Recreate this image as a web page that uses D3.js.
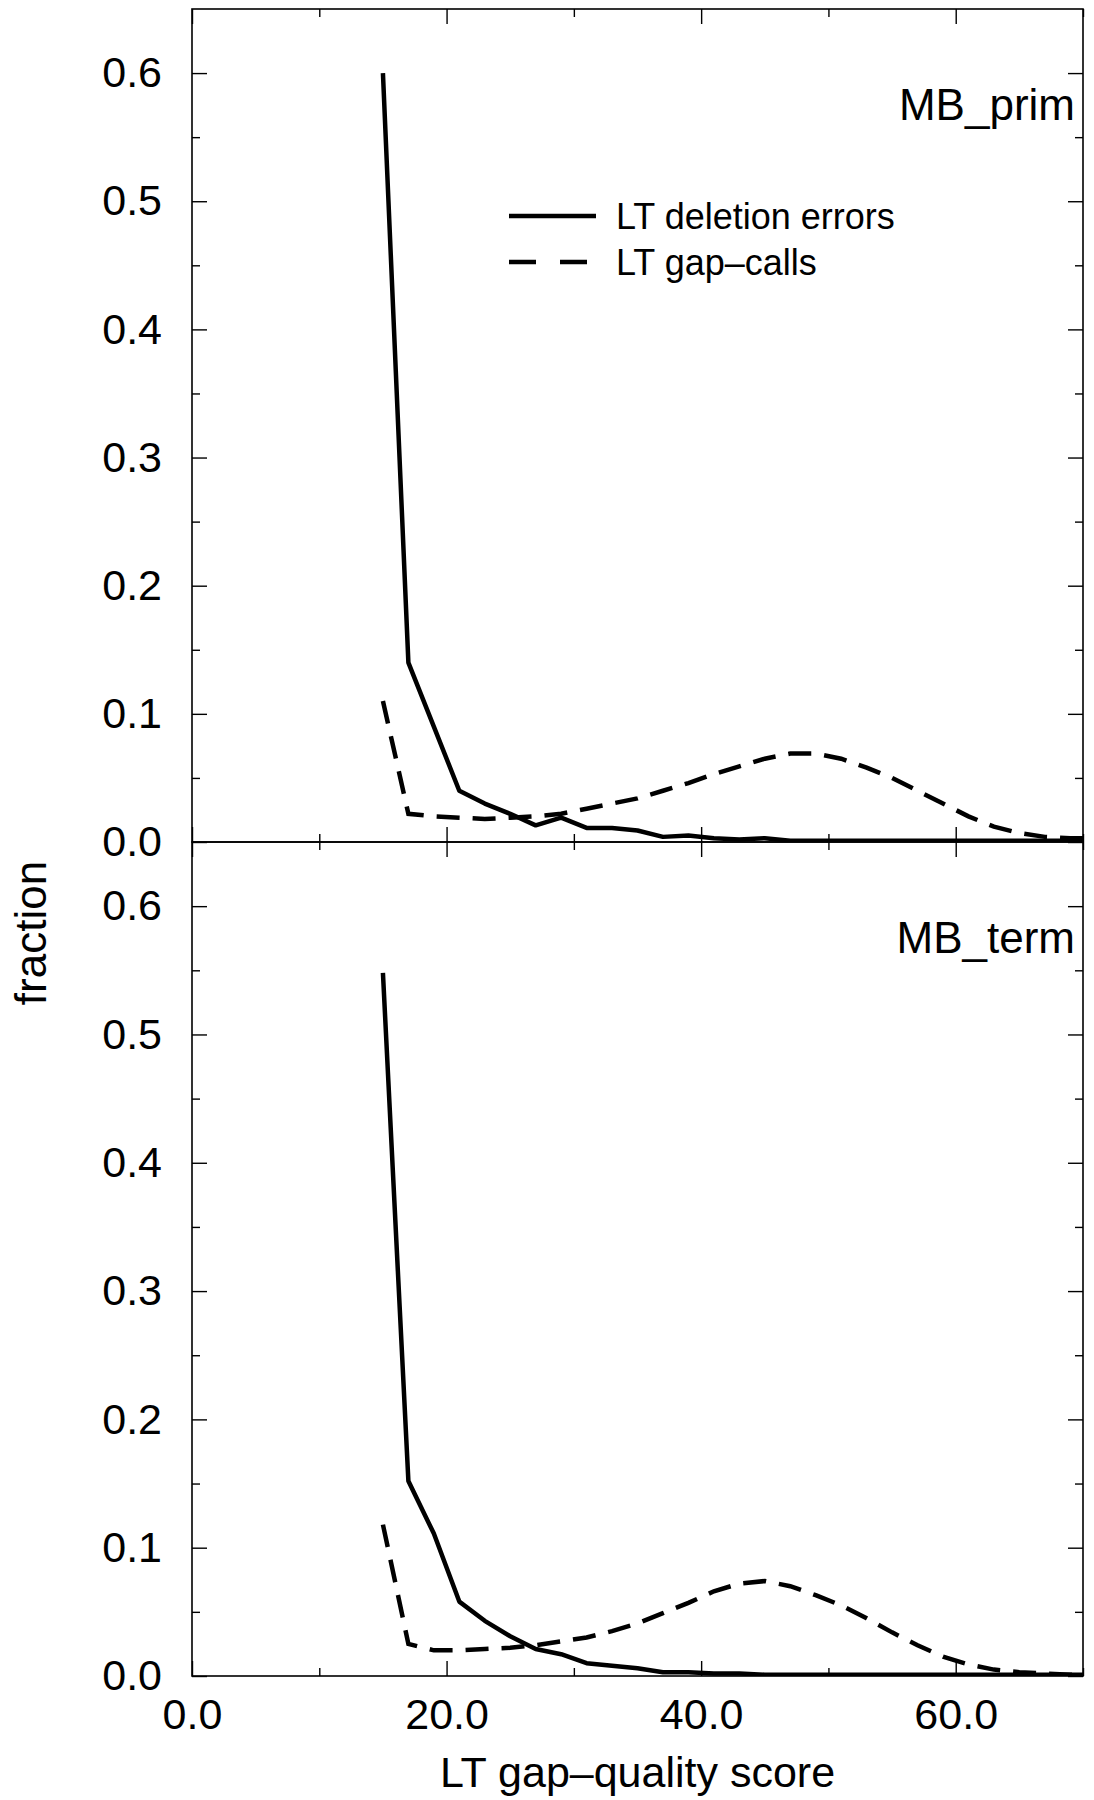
<!DOCTYPE html>
<html>
<head>
<meta charset="utf-8">
<script src="https://d3js.org/d3.v7.min.js"></script>
<style>
  body { margin: 0; background: #fff; }
  svg { display: block; }
  text { font-family: "Liberation Sans", Arial, Helvetica, sans-serif; fill: #000; }
</style>
</head>
<body>
<svg width="1094" height="1800"></svg>
<script>
// bin centres of the gap-quality score
var scores = [15, 17, 19, 21, 23, 25, 27, 29, 31, 33, 35, 37, 39, 41, 43, 45, 47, 49, 51, 53, 55, 57, 59, 61, 63, 65, 67, 69, 71];

// MB_prim
var primDeletion = [0.600, 0.140, 0.090, 0.040, 0.030, 0.022, 0.013, 0.019, 0.011, 0.011, 0.009, 0.004, 0.005, 0.003,
    0.002, 0.003, 0.001, 0.001, 0.001, 0.001, 0.001, 0.001, 0.001, 0.001, 0.001, 0.001, 0.001, 0.001, 0.001];
var primGapCalls = [0.110, 0.022, 0.020, 0.019, 0.018, 0.019, 0.020, 0.022, 0.026, 0.030, 0.034, 0.040, 0.046, 0.053,
    0.059, 0.065, 0.069, 0.069, 0.065, 0.058, 0.050, 0.040, 0.030, 0.020, 0.012, 0.007, 0.004, 0.003, 0.003];

// MB_term
var termDeletion = [0.548, 0.152, 0.111, 0.058, 0.043, 0.031, 0.021, 0.017, 0.010, 0.008, 0.006, 0.003, 0.003, 0.002,
    0.002, 0.001, 0.001, 0.001, 0.001, 0.001, 0.001, 0.001, 0.001, 0.001, 0.001, 0.001, 0.001, 0.001, 0.001];
var termGapCalls = [0.118, 0.025, 0.020, 0.020, 0.021, 0.022, 0.024, 0.027, 0.030, 0.035, 0.041, 0.049, 0.057, 0.066,
    0.072, 0.074, 0.070, 0.063, 0.055, 0.045, 0.034, 0.024, 0.015, 0.009, 0.005, 0.003, 0.002, 0.001, 0.001];

var yMajor = [0, 0.1, 0.2, 0.3, 0.4, 0.5, 0.6];
var yMinor = [0.05, 0.15, 0.25, 0.35, 0.45, 0.55];
var xMajor = [0, 20, 40, 60];
var xMinor = [10, 30, 50, 70];

var seriesNames = ["LT deletion errors", "LT gap\u2013calls"];

var svg = d3.select("svg");

var left = 192, right = 1083;

var x = d3.scaleLinear().domain([0, 70]).range([left, right]);

var panels = [
    { name: "MB_prim", top: 9, bottom: 842, deletion: primDeletion, gapCalls: primGapCalls, legend: true },
    { name: "MB_term", top: 842, bottom: 1676, deletion: termDeletion, gapCalls: termGapCalls, legend: false }
];

panels.forEach(function (p, i) {
    var y = d3.scaleLinear().domain([0, 0.65]).range([p.bottom, p.top]);
    var g = svg.append("g").attr("class", "panel");

    g.append("clipPath").attr("id", "clip" + i)
        .append("rect")
        .attr("x", left).attr("y", p.top)
        .attr("width", right - left).attr("height", p.bottom - p.top);

    // frame
    g.append("rect")
        .attr("x", left).attr("y", p.top)
        .attr("width", right - left).attr("height", p.bottom - p.top)
        .attr("fill", "none").attr("stroke", "#000").attr("stroke-width", 1.6);

    // y ticks, pointing inwards on both sides
    g.append("g").attr("transform", "translate(" + left + ",0)")
        .call(d3.axisLeft(y).tickValues(yMajor).tickSize(-15).tickPadding(30)
            .tickFormat(d3.format(".1f")));
    g.append("g").attr("transform", "translate(" + left + ",0)")
        .call(d3.axisLeft(y).tickValues(yMinor).tickSize(-8).tickFormat(""));
    g.append("g").attr("transform", "translate(" + right + ",0)")
        .call(d3.axisRight(y).tickValues(yMajor).tickSize(-15).tickFormat(""));
    g.append("g").attr("transform", "translate(" + right + ",0)")
        .call(d3.axisRight(y).tickValues(yMinor).tickSize(-8).tickFormat(""));

    // x ticks on top and bottom
    g.append("g").attr("transform", "translate(0," + p.top + ")")
        .call(d3.axisTop(x).tickValues(xMajor).tickSize(-15).tickFormat(""));
    g.append("g").attr("transform", "translate(0," + p.top + ")")
        .call(d3.axisTop(x).tickValues(xMinor).tickSize(-8).tickFormat(""));
    g.append("g").attr("transform", "translate(0," + p.bottom + ")")
        .call(d3.axisBottom(x).tickValues(xMajor).tickSize(-15).tickPadding(22)
            .tickFormat(i === 1 ? d3.format(".1f") : ""));
    g.append("g").attr("transform", "translate(0," + p.bottom + ")")
        .call(d3.axisBottom(x).tickValues(xMinor).tickSize(-8).tickFormat(""));

    g.selectAll(".domain").remove();
    g.selectAll(".tick line").attr("stroke", "#000").attr("stroke-width", 1.4);
    g.selectAll(".tick text").attr("font-size", 43).attr("font-family", null).attr("fill", "#000");

    var line = d3.line()
        .x(function (d) { return x(d[0]); })
        .y(function (d) { return y(d[1]); });

    var plot = g.append("g").attr("clip-path", "url(#clip" + i + ")");

    plot.append("path")
        .datum(d3.zip(scores, p.deletion))
        .attr("d", line)
        .attr("fill", "none").attr("stroke", "#000")
        .attr("stroke-width", 4.5).attr("stroke-linejoin", "round");

    plot.append("path")
        .datum(d3.zip(scores, p.gapCalls))
        .attr("d", line)
        .attr("fill", "none").attr("stroke", "#000")
        .attr("stroke-width", 4.5).attr("stroke-dasharray", "23,13");

    g.append("text")
        .attr("x", 1075).attr("y", p.top + 111)
        .attr("text-anchor", "end").attr("font-size", 44)
        .text(p.name);

    if (p.legend) {
        var legend = g.append("g").attr("class", "legend");
        seriesNames.forEach(function (name, k) {
            var ly = 216 + k * 46;
            legend.append("line")
                .attr("x1", 509).attr("x2", 596).attr("y1", ly).attr("y2", ly)
                .attr("stroke", "#000").attr("stroke-width", 4.5)
                .attr("stroke-dasharray", k === 1 ? "27,24" : null);
            legend.append("text")
                .attr("x", 616).attr("y", ly).attr("dy", "0.35em")
                .attr("font-size", 36)
                .text(name);
        });
    }
});

// axis titles
svg.append("text")
    .attr("x", (left + right) / 2).attr("y", 1787)
    .attr("text-anchor", "middle").attr("font-size", 43)
    .text("LT gap\u2013quality score");

svg.append("text")
    .attr("transform", "translate(46,933) rotate(-90)")
    .attr("text-anchor", "middle").attr("font-size", 44)
    .text("fraction");
</script>
</body>
</html>
